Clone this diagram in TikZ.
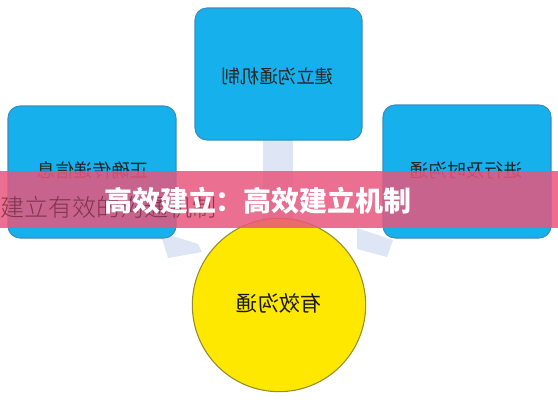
\documentclass[tikz,border=0pt]{standalone}
\usepackage{fontspec}
\usepackage{graphicx}
\setmainfont{Noto Sans CJK SC}
\newfontfamily\cjklight{Noto Sans CJK SC Light}
\definecolor{boxblue}{RGB}{22,176,236}
\definecolor{boxedge}{RGB}{60,140,190}
\definecolor{circyellow}{RGB}{255,232,0}
\definecolor{circedge}{RGB}{150,140,40}
\definecolor{paleblue}{RGB}{222,230,245}
\definecolor{bannerpink}{RGB}{232,86,126}
\definecolor{fadetext}{RGB}{110,40,60}
\begin{document}
\begin{tikzpicture}[x=0.75pt,y=-0.75pt,
  card/.style={draw=boxedge,line width=0.8pt,fill=boxblue,rounded corners=9pt},
  cardtext/.style={font=\fontsize{14pt}{16pt}\selectfont,text=black!85},
  pale/.style={fill=paleblue,draw=none}]
\useasboundingbox (0,0) rectangle (558,400);
\fill[white] (0,0) rectangle (558,400);
% pale connectors
\fill[pale] (263,135) rectangle (293,228);
\fill[pale] (160,232) -- (198,244) -- (202,252) -- (168,258) -- cycle;
\fill[pale] (357,228) -- (393,240) -- (387,257) -- (357,249) -- cycle;
% boxes
\path[card] (195,8) rectangle (362,140);
\node[cardtext] (top) at (278,76) {\reflectbox{建立沟通机制}};
\path[card] (8,106) rectangle (176,238);
\node[cardtext] (left) at (93,170) {\reflectbox{正确传递信息}};
\path[card] (383,105) rectangle (551,238);
\node[cardtext] (right) at (466,170) {\reflectbox{进行及时沟通}};
% circle
\node[circle,draw=circedge,line width=0.8pt,fill=circyellow,minimum size=130pt,inner sep=0pt] (center) at (279,305) {};
\node[font=\fontsize{16pt}{18pt}\selectfont,text=black!90] (ctext) at (279,303) {\reflectbox{有效沟通}};
% banner
\fill[bannerpink,opacity=0.85] (0,171) rectangle (558,228);
\node[font=\cjklight\fontsize{18pt}{20pt}\selectfont,text=fadetext,opacity=0.8,anchor=west,inner sep=0pt] (fade) at (0,207) {建立有效的沟通机制};
\node[font=\bfseries\fontsize{21pt}{24pt}\selectfont,text=white] (title) at (258,201) {高效建立：高效建立机制};
\end{tikzpicture}
\end{document}
